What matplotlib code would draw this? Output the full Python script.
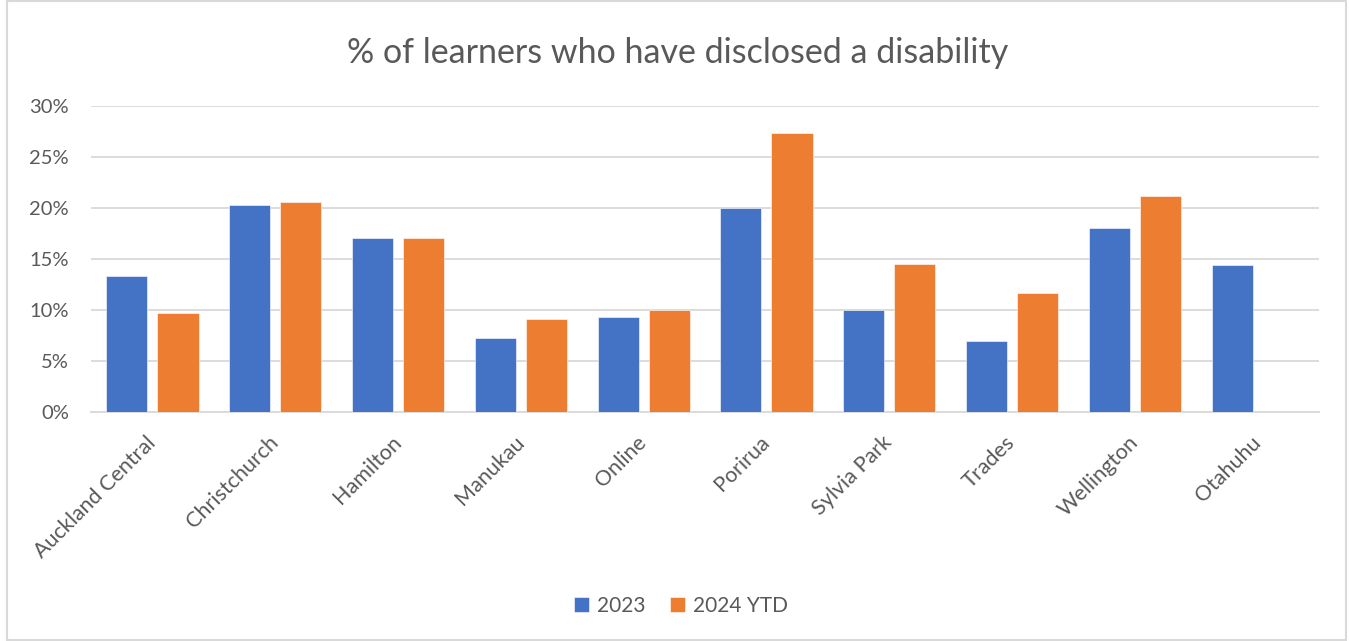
import numpy as np
import matplotlib
matplotlib.use("Agg")
import matplotlib.pyplot as plt
from matplotlib.patches import Rectangle
from matplotlib.ticker import PercentFormatter

plt.rcParams['font.family'] = ['Lato', 'DejaVu Sans']

# Campus names and disclosure rates (%)
campuses = ['Auckland Central', 'Christchurch', 'Hamilton', 'Manukau', 'Online',
            'Porirua', 'Sylvia Park', 'Trades', 'Wellington', 'Otahuhu']
rate_2023 = [13.3, 20.3, 17.0, 7.2, 9.25, 20.0, 10.0, 6.9, 18.0, 14.4]
rate_2024 = [9.7, 20.6, 17.0, 9.05, 10.0, 27.35, 14.5, 11.6, 21.15, np.nan]
series_labels = ['2023', '2024 YTD']

blue = '#4472C4'
orange = '#ED7D31'
text_grey = '#595959'
grid_grey = '#D9D9D9'

fig = plt.figure(figsize=(13.49, 6.41), dpi=100)
ax = fig.add_axes([0.0675, 0.3577, 0.9103, 0.4774])

x = np.arange(len(campuses))
w = 0.334
off = 0.208
ax.bar(x - off, rate_2023, w, color=blue, edgecolor='white', linewidth=0.4, label=series_labels[0], zorder=3)
ax.bar(x + off, rate_2024, w, color=orange, edgecolor='white', linewidth=0.4, label=series_labels[1], zorder=3)

ax.set_xlim(-0.5, len(campuses) - 0.5)
ax.set_ylim(0, 30)
ax.set_yticks(np.arange(0, 31, 5))
ax.yaxis.set_major_formatter(PercentFormatter(decimals=0))
ax.grid(axis='y', color=grid_grey, linewidth=1.3, zorder=0)

for side in ['top', 'right', 'left']:
    ax.spines[side].set_visible(False)
ax.spines['bottom'].set_color(grid_grey)
ax.spines['bottom'].set_linewidth(1.3)

ax.tick_params(axis='y', length=0, pad=16, labelsize=14.5, labelcolor=text_grey)
ax.tick_params(axis='x', length=0, pad=20, labelsize=15.5, labelcolor=text_grey)
ax.set_xticks(x)
ax.set_xticklabels(campuses, rotation=45, ha='right', va='center', rotation_mode='anchor')

fig.text(0.502, 0.918, '% of learners who have disclosed a disability',
         ha='center', va='center', fontsize=24.5, color=text_grey)

fig.legend(loc='center', bbox_to_anchor=(0.505, 0.055), ncol=2, frameon=False,
           fontsize=15, labelcolor=text_grey, handlelength=0.7, handleheight=0.7,
           handletextpad=0.4, columnspacing=1.2)

# light outline round the chart area
fig.patches.append(Rectangle((0.005, 0.002), 0.993, 0.996, transform=fig.transFigure,
                             fill=False, edgecolor=grid_grey, linewidth=1.5))

fig.savefig('out.png', dpi=100)
